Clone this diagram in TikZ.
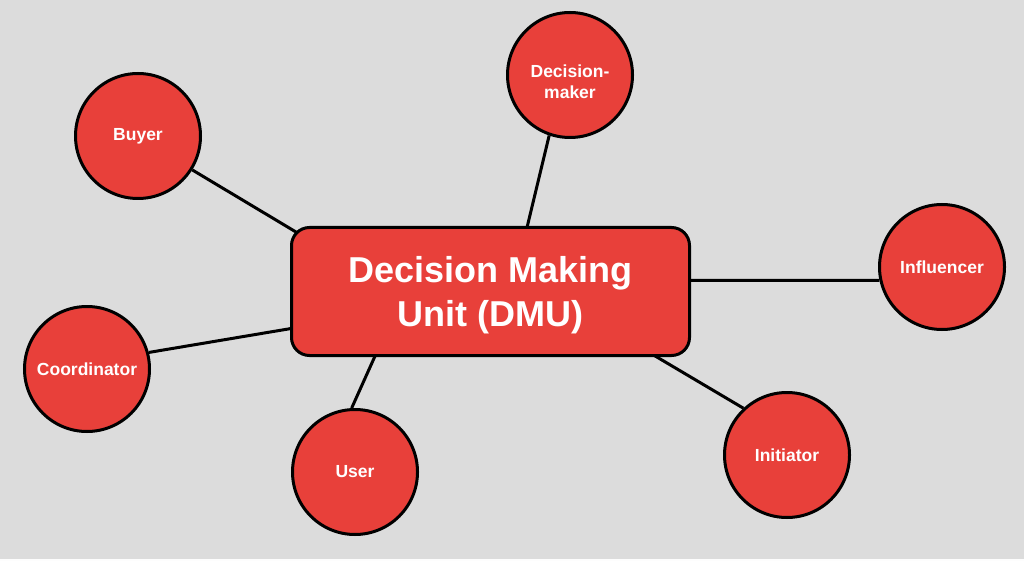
\documentclass[tikz,border=0pt]{standalone}
\usepackage{fontspec}
\setmainfont{Liberation Sans}
\definecolor{dmuRed}{HTML}{E8403A}
\definecolor{dmuGray}{HTML}{DCDCDC}
\pgfdeclarelayer{back}
\pgfsetlayers{back,main}

\begin{document}
\begin{tikzpicture}
[x=1pt,y=-1pt,
  nodeDecorate/.style={shape=circle,minimum size=125pt,inner sep=0pt,draw,line width=3pt,%
    fill=dmuRed,text=white,align=center,font=\fontsize{17.5}{21}\selectfont\bfseries},%
  unitDecorate/.style={shape=rectangle,rounded corners=18pt,minimum width=398pt,%
    minimum height=128pt,draw,line width=3pt,fill=dmuRed,text=white,align=center,%
    font=\fontsize{36}{44}\selectfont\bfseries},%
  lineDecorate/.style={-,line width=3pt}]
\useasboundingbox (0,0) rectangle (1024,561);
%% central unit
\node (dmu) at (490.5,291.5) [unitDecorate] {\rule{0pt}{33.6pt}Decision Making\\Unit (DMU)};
%% roles around it
\foreach \nodename/\x/\y/\role in {
  buyer/138/136/Buyer, dmaker/570/75/{\rule{0pt}{26.5pt}Decision-\\maker},
  infl/942/267/Influencer, coord/87/369/Coordinator,
  user/355/472/User, init/787/455/Initiator}
{
  \node (\nodename) at (\x,\y) [nodeDecorate] {\role};
}
%% free ends inside the unit
\coordinate (buyerEnd) at (306,238);
\coordinate (dmakerEnd) at (524,240);
\coordinate (inflEnd) at (680,280.3);
\coordinate (coordEnd) at (300,327);
\coordinate (userEnd) at (380,345);
\coordinate (initEnd) at (645,350);
\begin{pgfonlayer}{back}
\fill[dmuGray] (0,0) rectangle (1024,561);
\fill[white!95!dmuGray] (0,559) rectangle (1024,561);
%% edges or lines
\path
\foreach \startnode/\endnode in {
  buyer.328/buyerEnd, dmaker.251/dmakerEnd, infl.192/inflEnd,
  coord.15/coordEnd, user.93/userEnd, init.133/initEnd}
{
  (\startnode) edge[lineDecorate] (\endnode)
};
\end{pgfonlayer}
\end{tikzpicture}
\end{document}
